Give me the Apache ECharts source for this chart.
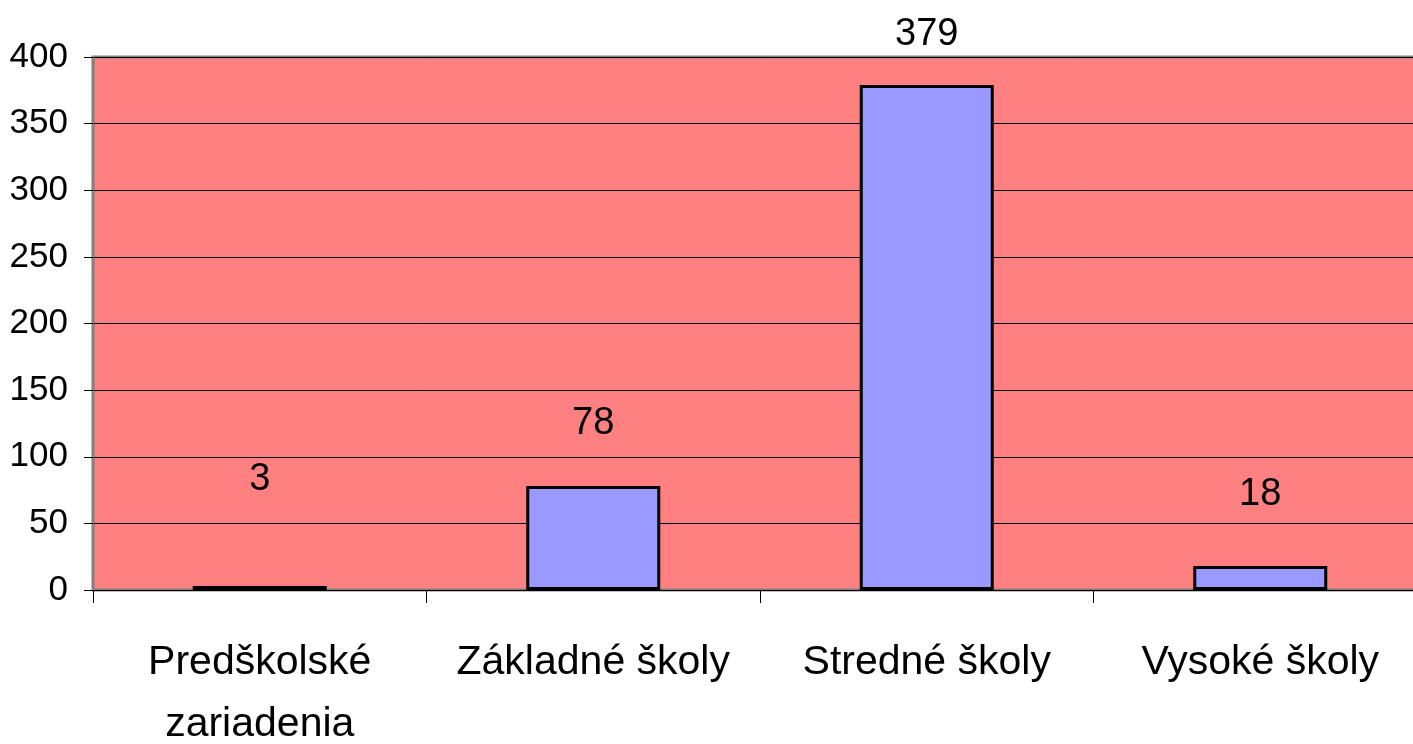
<!DOCTYPE html>
<html>
<head>
<meta charset="utf-8">
<script src="https://cdn.jsdelivr.net/npm/echarts@6/dist/echarts.min.js"></script>
<style>
  html, body { margin: 0; padding: 0; background: #fff; }
  #chart { width: 1413px; height: 744px; }
</style>
</head>
<body>
<div id="chart"></div>
<script>
const categories = ['Predškolské\nzariadenia', 'Základné školy', 'Stredné školy', 'Vysoké školy']
const values = [3, 78, 379, 18]
const yTicks = [0, 50, 100, 150, 200, 250, 300, 350, 400]

// gap between bar top and its number, as in the original
const labelGaps = [87, 44, 31, 52]

const font = '"Liberation Sans", Arial, sans-serif'

let chart = echarts.init(document.getElementById('chart'))
chart.setOption({
  animation: false,
  grid: {
    left: 93,
    top: 57,
    bottom: 154,
    width: 1334,
    outerBoundsMode: 'none',
    containLabel: false,
    show: true,
    backgroundColor: '#FF8080',
    borderColor: '#808080',
    borderWidth: 3
  },
  xAxis: {
    type: 'category',
    data: categories,
    axisLine: { lineStyle: { color: '#000', width: 1 } },
    axisTick: { show: true, interval: 0, length: 13, lineStyle: { color: '#000' } },
    axisLabel: {
      interval: 0,
      color: '#000',
      fontFamily: font,
      fontSize: 41,
      lineHeight: 62,
      margin: 42
    }
  },
  yAxis: {
    type: 'value',
    min: yTicks[0],
    max: yTicks[yTicks.length - 1],
    interval: 50,
    axisLine: { show: true, lineStyle: { color: '#808080', width: 2 } },
    axisTick: { show: true, length: 9, lineStyle: { color: '#000' } },
    axisLabel: {
      color: '#000',
      fontFamily: font,
      fontSize: 35,
      margin: 25
    },
    splitLine: { lineStyle: { color: '#000', width: 1 } }
  },
  series: [
    {
      type: 'bar',
      barWidth: 134,
      data: values.map((v, i) => ({
        value: v,
        label: { distance: labelGaps[i] }
      })),
      itemStyle: {
        color: '#9999FF',
        borderColor: '#000',
        borderWidth: 3
      },
      label: {
        show: true,
        position: 'top',
        color: '#000',
        fontFamily: font,
        fontSize: 38
      }
    }
  ]
})
</script>
</body>
</html>
